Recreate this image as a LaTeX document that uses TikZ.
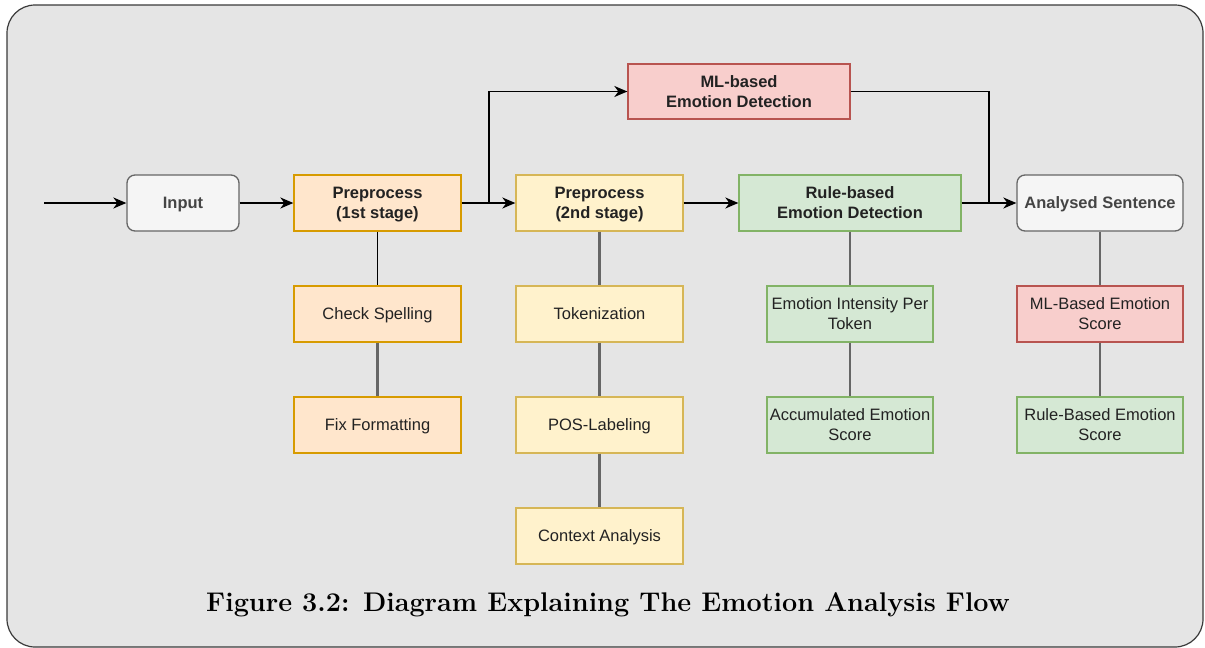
\documentclass[tikz,border=0pt]{standalone}
\usepackage{fontspec}
\setmainfont{Latin Modern Roman}
\newfontfamily\boxfont{Liberation Sans}
\usetikzlibrary{arrows.meta}
\definecolor{panelbg}{HTML}{E5E5E5}
\definecolor{panelline}{HTML}{3A3A3A}
\definecolor{grayfill}{HTML}{F5F5F5}
\definecolor{grayline}{HTML}{666666}
\definecolor{graytext}{HTML}{444444}
\definecolor{orangefill}{HTML}{FFE6CC}
\definecolor{orangeline}{HTML}{D79B00}
\definecolor{yellowfill}{HTML}{FFF2CC}
\definecolor{yellowline}{HTML}{D6B656}
\definecolor{greenfill}{HTML}{D5E8D4}
\definecolor{greenline}{HTML}{82B366}
\definecolor{redfill}{HTML}{F8CECC}
\definecolor{redline}{HTML}{B85450}
\definecolor{boxtext}{HTML}{222222}
% centred block of one or more lines, set slightly below the box centre
% (zero height and depth, so the box centre sits on its baseline)
\newcommand\boxlines[1]{\raisebox{-6pt}[0pt][0pt]{\begin{tabular}{@{}c@{}}#1\end{tabular}}}
\tikzset{
  base/.style={draw, line width=1.3pt, minimum height=56pt,
    inner sep=0pt, text=boxtext,
    font=\boxfont\fontsize{16.5}{20}\selectfont},
  head/.style={base, font=\boxfont\bfseries\fontsize{16.5}{20}\selectfont},
  greybox/.style={head, rounded corners=8pt, fill=grayfill, draw=grayline, text=graytext},
  orangebox/.style={base, fill=orangefill, draw=orangeline},
  yellowbox/.style={base, fill=yellowfill, draw=yellowline},
  greenbox/.style={base, fill=greenfill, draw=greenline},
  redbox/.style={base, fill=redfill, draw=redline},
  flow/.style={draw=black, line width=1.5pt,
    -{Stealth[length=13pt, width=11pt, inset=4pt]}},
  plain/.style={draw=black, line width=1.5pt},
  link/.style={draw=grayline, line width=2.4pt},
}
\begin{document}
\begin{tikzpicture}[x=1pt, y=-1pt]
\useasboundingbox (0,0) rectangle (1205,648);
% panel
\draw[fill=panelbg, draw=panelline, line width=1.2pt, rounded corners=28pt]
  (7,5) rectangle (1203,647);

% main row
\node[greybox, minimum width=112pt] (in) at (183,203) {\boxlines{Input}};
\node[orangebox, head, minimum width=167pt] (pre1) at (377.5,203) {\boxlines{Preprocess\\(1st stage)}};
\node[yellowbox, head, minimum width=167pt] (pre2) at (599.5,203) {\boxlines{Preprocess\\(2nd stage)}};
\node[greenbox, head, minimum width=222pt] (rule) at (850,203) {\boxlines{Rule-based\\Emotion Detection}};
\node[greybox, minimum width=166pt] (an) at (1100,203) {\boxlines{Analysed Sentence}};
\node[redbox, head, minimum width=222pt, minimum height=55pt] (ml) at (739,91.5) {\boxlines{ML-based\\Emotion Detection}};

% detail columns
\node[orangebox, minimum width=167pt] (spell) at (377.5,314) {\boxlines{Check Spelling}};
\node[orangebox, minimum width=167pt] (fmt) at (377.5,425) {\boxlines{Fix Formatting}};
\node[yellowbox, minimum width=167pt] (tok) at (599.5,314) {\boxlines{Tokenization}};
\node[yellowbox, minimum width=167pt] (pos) at (599.5,425) {\boxlines{POS-Labeling}};
\node[yellowbox, minimum width=167pt] (ctx) at (599.5,536) {\boxlines{Context Analysis}};
\node[greenbox, minimum width=166pt] (int) at (850,314) {\boxlines{Emotion Intensity Per\\Token}};
\node[greenbox, minimum width=166pt] (acc) at (850,425) {\boxlines{Accumulated Emotion\\Score}};
\node[redbox, minimum width=166pt] (mls) at (1100,314) {\boxlines{ML-Based Emotion\\Score}};
\node[greenbox, minimum width=166pt] (rbs) at (1100,425) {\boxlines{Rule-Based Emotion\\Score}};

% flow connectors
\coordinate (start) at (44,203);
\coordinate (split) at (489,203);
\coordinate (join) at (989,203);
\draw[flow] (start) -- (in);
\draw[flow] (in) -- (pre1);
\draw[flow] (pre1) -- (pre2);
\draw[flow] (split) |- (ml.west);
\draw[flow] (pre2) -- (rule);
\draw[plain] (ml.east) -| (join);
\draw[flow] (rule) -- (an);

% detail links
\draw[plain] (pre1) -- (spell);
\draw[link] (spell) -- (fmt);
\draw[link] (pre2) -- (tok);
\draw[link] (tok) -- (pos);
\draw[link] (pos) -- (ctx);
\draw[link] (rule) -- (int);
\draw[link] (int) -- (acc);
\draw[link] (an) -- (mls);
\draw[link] (mls) -- (rbs);

% caption
\node[font=\bfseries\fontsize{27}{31}\selectfont, text=black] (cap) at (608,605)
  {Figure 3.2: Diagram Explaining The Emotion Analysis Flow};
\end{tikzpicture}
\end{document}
